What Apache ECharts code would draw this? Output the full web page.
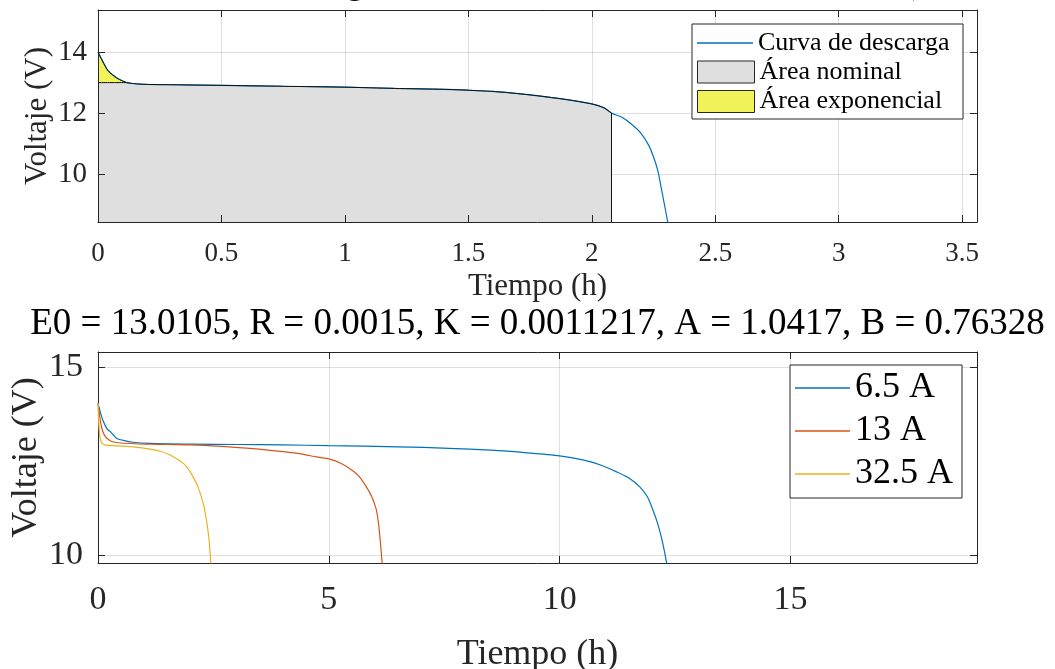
<!DOCTYPE html>
<html><head><meta charset="utf-8">
<script src="https://cdn.jsdelivr.net/npm/echarts@6/dist/echarts.min.js"></script>
<style>html,body{margin:0;padding:0;background:#fff}#c{width:1055px;height:669px}</style>
</head><body><div id="c"></div><script>
// ---------- data: upper plot (nominal discharge curve) ----------
const topTime = [0, 0.01, 0.02, 0.034, 0.045, 0.06, 0.075, 0.088, 0.1, 0.116, 0.14, 0.17, 0.2, 0.3, 0.5, 0.75, 1.0, 1.2, 1.4, 1.5, 1.6, 1.7, 1.8, 1.9, 2.0, 2.05, 2.08, 2.12, 2.16, 2.2, 2.23, 2.25, 2.267, 2.28, 2.3, 2.315];
const topVolt = [14.0, 13.84, 13.68, 13.47, 13.35, 13.25, 13.16, 13.1, 13.05, 13.0, 12.97, 12.95, 12.94, 12.93, 12.91, 12.88, 12.85, 12.81, 12.78, 12.75, 12.71, 12.64, 12.55, 12.44, 12.3, 12.17, 12.0, 11.87, 11.64, 11.33, 10.95, 10.56, 10.12, 9.6, 8.75, 8.1];
const expEndTime = 0.116;      // end of exponential zone
const expLevel = 13.0;         // voltage at end of exponential zone
const nominalEndTime = 2.08;   // end of nominal zone
const nominalEndVolt = 12.0;
const topXTicks = [0, 0.5, 1, 1.5, 2, 2.5, 3, 3.5];
const topYTicks = [10, 12, 14];
const topXRange = [0, 3.56];
const topYRange = [8.43, 15.38];

// ---------- data: lower plot (discharge at several currents) ----------
const t65 = [0, 0.05, 0.1, 0.2, 0.27, 0.4, 0.55, 0.76, 1.13, 2, 3, 4, 5, 6.5, 7.6, 8.5, 9.3, 10, 10.5, 10.9, 11.22, 11.5, 11.73, 11.9, 12.02, 12.12, 12.2, 12.27, 12.33];
const v65 = [14.04, 13.8, 13.6, 13.35, 13.28, 13.11, 13.05, 13.0, 12.97, 12.95, 12.94, 12.93, 12.91, 12.88, 12.84, 12.79, 12.72, 12.64, 12.53, 12.39, 12.22, 12.05, 11.82, 11.55, 11.2, 10.85, 10.49, 10.1, 9.7];
const t13 = [0, 0.03, 0.06, 0.1, 0.15, 0.2, 0.3, 0.5, 0.8, 1.13, 1.5, 2, 2.57, 3.29, 4.01, 4.4, 4.73, 5.02, 5.25, 5.45, 5.65, 5.81, 5.93, 6.03, 6.08, 6.12, 6.16];
const v13 = [14.04, 13.75, 13.5, 13.3, 13.17, 13.1, 13.02, 12.98, 12.96, 12.95, 12.94, 12.93, 12.9, 12.84, 12.75, 12.69, 12.61, 12.55, 12.45, 12.3, 12.1, 11.82, 11.55, 11.2, 10.8, 10.3, 9.7];
const t325 = [0, 0.01, 0.02, 0.04, 0.07, 0.1, 0.15, 0.3, 0.5, 0.76, 1.13, 1.35, 1.56, 1.72, 1.85, 1.96, 2.06, 2.17, 2.28, 2.34, 2.39, 2.42, 2.45];
const v325 = [14.04, 13.7, 13.45, 13.15, 13.0, 12.96, 12.93, 12.91, 12.9, 12.88, 12.82, 12.76, 12.66, 12.55, 12.44, 12.28, 12.08, 11.8, 11.37, 11.0, 10.58, 10.2, 9.7];
const botNames = ['6.5 A', '13 A', '32.5 A'];
const botXTicks = [0, 5, 10, 15];
const botYTicks = [10, 15];
const botXRange = [0, 19.04];
const botYRange = [9.79, 15.4];

const topTitle = 'Curva de descarga nominal de la batería de iones de litio (13 Ah a 12.8 V)';
const botTitle = 'E0 = 13.0105, R = 0.0015, K = 0.0011217, A = 1.0417, B = 0.76328';

// ---------- build ----------
const zip = (a, b) => a.map((x, i) => [x, b[i]]);
const curve = zip(topTime, topVolt);
const expArea = curve.filter(p => p[0] <= expEndTime);
const nominalArea = [[0, expLevel]].concat(curve.filter(p => p[0] >= expEndTime && p[0] <= nominalEndTime));

const FONT = 'Liberation Serif';
const INK = '#262626';
const GRID = 'rgba(38,38,38,0.15)';
const BLUE = '#0072BD', ORANGE = '#D95319', YELLOW = '#EDB120';
const GREY_FILL = '#dfdfdf', YELLOW_FILL = '#f2f25a';
const fmt = list => v => (list.some(t => Math.abs(t - v) < 1e-6) ? String(v) : '');
const SMOOTH = { smooth: 0.25 };

function mainX(gi, range, interval, ticks, fs, margin, nameFs, nameGap) {
  return {
    gridIndex: gi, type: 'value', min: range[0], max: range[1], interval: interval, z: 3,
    name: 'Tiempo (h)', nameLocation: 'middle', nameGap: nameGap, nameMoveOverlap: false,
    nameTextStyle: { fontFamily: FONT, fontSize: nameFs, color: INK },
    axisLine: { show: true, onZero: false, lineStyle: { color: INK, width: 1 } },
    axisTick: { show: true, inside: true, length: 7, lineStyle: { color: INK } },
    axisLabel: { fontFamily: FONT, fontSize: fs, color: INK, margin: margin, formatter: fmt(ticks) },
    splitLine: { show: true, lineStyle: { color: GRID, width: 1 } }
  };
}
function mainY(gi, range, split, ticks, fs, margin, nameFs, nameGap) {
  return {
    gridIndex: gi, type: 'value', min: range[0], max: range[1], splitNumber: split, z: 3,
    name: 'Voltaje (V)', nameLocation: 'middle', nameGap: nameGap, nameMoveOverlap: false,
    nameTextStyle: { fontFamily: FONT, fontSize: nameFs, color: INK },
    axisLine: { show: true, onZero: false, lineStyle: { color: INK, width: 1 } },
    axisTick: { show: true, inside: true, length: 7, lineStyle: { color: INK } },
    axisLabel: { fontFamily: FONT, fontSize: fs, color: INK, margin: margin, formatter: fmt(ticks) },
    splitLine: { show: true, lineStyle: { color: GRID, width: 1 } }
  };
}
function boxX(gi, range, interval) {
  return { gridIndex: gi, type: 'value', position: 'top', min: range[0], max: range[1], interval: interval, z: 3,
    axisLine: { show: true, onZero: false, lineStyle: { color: INK, width: 1 } },
    axisTick: { show: true, inside: true, length: 7, lineStyle: { color: INK } },
    axisLabel: { show: false }, splitLine: { show: false } };
}
function boxY(gi, range, split) {
  return { gridIndex: gi, type: 'value', position: 'right', min: range[0], max: range[1], splitNumber: split, z: 3,
    axisLine: { show: true, onZero: false, lineStyle: { color: INK, width: 1 } },
    axisTick: { show: true, inside: true, length: 7, lineStyle: { color: INK } },
    axisLabel: { show: false }, splitLine: { show: false } };
}
const legendText = fs => ({ fontFamily: FONT, fontSize: fs, color: '#000' });

const chart = echarts.init(document.getElementById('c'), null, { renderer: 'canvas' });
chart.setOption({
  backgroundColor: '#fff',
  animation: false,
  textStyle: { fontFamily: FONT },
  grid: [
    { left: 98, right: 78, top: 10, height: 212, outerBoundsMode: 'none' },
    { left: 98, right: 78, top: 352, height: 211, outerBoundsMode: 'none' }
  ],
  xAxis: [
    mainX(0, topXRange, 0.5, topXTicks, 27, 18, 31, 49.5),
    boxX(0, topXRange, 0.5),
    mainX(1, botXRange, 5, botXTicks, 34, 20, 36, 74),
    boxX(1, botXRange, 5)
  ],
  yAxis: [
    mainY(0, topYRange, 3, topYTicks, 29, 11, 31, 44.5),
    boxY(0, topYRange, 3),
    mainY(1, botYRange, 1, botYTicks, 34, 15, 36, 53),
    boxY(1, botYRange, 1)
  ],
  legend: [
    { // upper legend, line entry
      z: 6, orient: 'vertical', left: 697, top: 30, itemWidth: 56, itemHeight: 1.3, padding: 0,
      textStyle: legendText(26), selectedMode: false,
      data: [{ name: 'Curva de descarga', icon: 'rect' }]
    },
    { // upper legend, patch entries
      z: 6, orient: 'vertical', left: 697, top: 59, itemWidth: 57, itemHeight: 22, itemGap: 3.5, padding: 0,
      textStyle: legendText(26), selectedMode: false,
      data: [
        { name: 'Área nominal', icon: 'rect', itemStyle: { color: GREY_FILL, borderColor: INK, borderWidth: 1 } },
        { name: 'Área exponencial', icon: 'rect', itemStyle: { color: YELLOW_FILL, borderColor: INK, borderWidth: 1 } }
      ]
    },
    { // lower legend
      z: 6, orient: 'vertical', left: 790, top: 365, itemWidth: 55, itemHeight: 1.3, itemGap: 7,
      padding: [5, 9, 6, 5], borderColor: INK, borderWidth: 1, backgroundColor: '#fff',
      textStyle: legendText(36), selectedMode: false,
      data: botNames.map(n => ({ name: n, icon: 'rect' }))
    }
  ],
  series: [
    Object.assign({ name: 'Curva de descarga', type: 'line', xAxisIndex: 0, yAxisIndex: 0, data: curve,
      symbol: 'none', lineStyle: { color: BLUE, width: 1.2 }, itemStyle: { color: BLUE } }, SMOOTH),
    Object.assign({ name: 'Área exponencial', type: 'line', xAxisIndex: 0, yAxisIndex: 0, data: expArea,
      symbol: 'none', lineStyle: { color: '#111', width: 1 }, itemStyle: { color: YELLOW_FILL },
      areaStyle: { color: YELLOW_FILL, opacity: 1, origin: 'start' } }, SMOOTH),
    Object.assign({ name: 'Área nominal', type: 'line', xAxisIndex: 0, yAxisIndex: 0, data: nominalArea,
      symbol: 'none', lineStyle: { color: '#111', width: 1 }, itemStyle: { color: GREY_FILL },
      areaStyle: { color: GREY_FILL, opacity: 1, origin: 'start' },
      markLine: { silent: true, symbol: 'none', label: { show: false }, animation: false,
        lineStyle: { color: '#111', width: 1, type: 'solid' },
        data: [[{ coord: [nominalEndTime, topYRange[0]] }, { coord: [nominalEndTime, nominalEndVolt] }]] } }, SMOOTH),
    Object.assign({ name: botNames[0], type: 'line', xAxisIndex: 2, yAxisIndex: 2, data: zip(t65, v65),
      symbol: 'none', lineStyle: { color: BLUE, width: 1.2 }, itemStyle: { color: BLUE } }, SMOOTH),
    Object.assign({ name: botNames[1], type: 'line', xAxisIndex: 2, yAxisIndex: 2, data: zip(t13, v13),
      symbol: 'none', lineStyle: { color: ORANGE, width: 1.2 }, itemStyle: { color: ORANGE } }, SMOOTH),
    Object.assign({ name: botNames[2], type: 'line', xAxisIndex: 2, yAxisIndex: 2, data: zip(t325, v325),
      symbol: 'none', lineStyle: { color: YELLOW, width: 1.2 }, itemStyle: { color: YELLOW } }, SMOOTH)
  ],
  graphic: [
    { type: 'rect', z: 5, silent: true, shape: { x: 692, y: 24, width: 271, height: 95 },
      style: { fill: '#fff', stroke: INK, lineWidth: 1 } },
    { type: 'text', x: 123, y: -14.5, silent: true,
      style: { text: topTitle, fontFamily: FONT, fontSize: 32, fontWeight: 'bold', fill: '#000', align: 'left', verticalAlign: 'middle' } },
    { type: 'text', x: 537.5, y: 324.5, silent: true,
      style: { text: botTitle, fontFamily: FONT, fontSize: 37, fill: '#000', align: 'center', verticalAlign: 'middle' } }
  ]
});
</script></body></html>
